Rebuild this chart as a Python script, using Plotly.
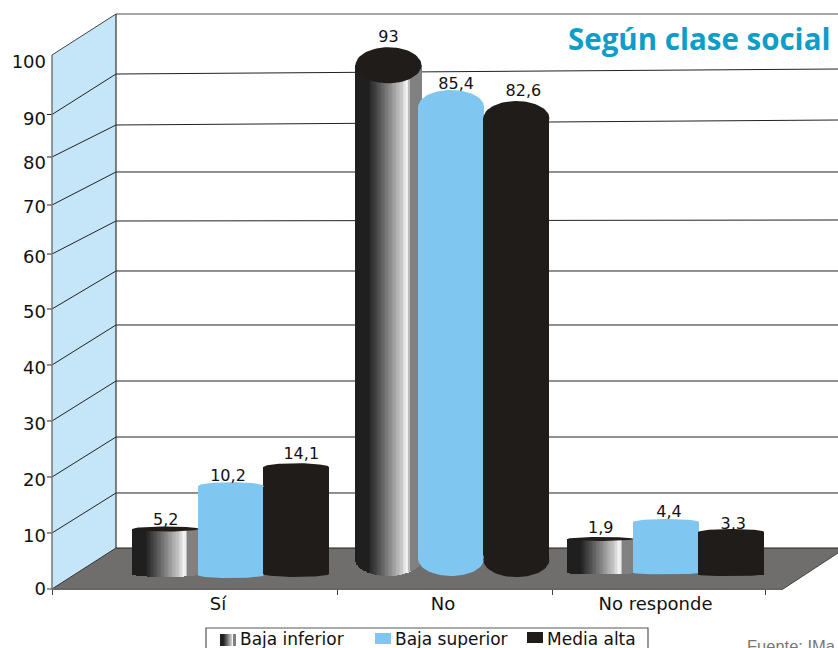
import numpy as np
import plotly.graph_objects as go

# ---- data ----
categories = ["Sí", "No", "No responde"]
series_names = ["Baja inferior", "Baja superior", "Media alta"]
baja_inferior = [5.2, 93, 1.9]
baja_superior = [10.2, 85.4, 4.4]
media_alta = [14.1, 82.6, 3.3]
# The printed cylinders are not to scale with their printed labels:
# heights of the drawn tops and feet, read against the axis below.
top_inferior = [10.8, 94.2, 9.0]
top_superior = [18.5, 86.7, 12.05]
top_media = [21.9, 84.7, 10.25]
foot_inferior = [2.7, 5.4, 2.9]
foot_superior = [2.5, 5.4, 2.9]
foot_media = [2.7, 5.2, 2.6]
y_tick_labels = ["0", "10", "20", "30", "40", "50", "60", "70", "80", "90", "100"]
y_label_positions = [0, 9.6, 19.6, 29.7, 39.8, 49.9, 59.8, 68.7, 76.6, 84.5, 94.8]

# ---- layout constants ----
W, H = 838, 648
L, B = 52, 589
UNIT_X, X0 = 217.5, 231
UNIT_Y = 5.56
px = lambda x: (x - L) / (W - L)
py = lambda y: (B - y) / B
ux = lambda x: (x - X0) / UNIT_X

DARK, BLUE, WALL, FLOOR = "#201c19", "#7fc6f1", "#c5e5f8", "#6f6e6c"
group_center = [0, 1.012, 2]
offset = [[-0.3, 0, 0.3], [-0.288, 0, 0.3], [-0.3, 0, 0.3]]  # per group, per series
bar_w = 0.303
cap_ry = {0: [2.5, 18, 2], 1: [4, 17, 3], 2: [4, 17, 3]}
foot_ry = {0: [3, 17, 1.5], 1: [3, 17, 1.5], 2: [3, 17, 1.5]}
label_dx = {0: [0, -3, 5], 1: [0, 5, 7], 2: [0, 3, 2]}   # label nudges per group, pixels
label_dy = {0: [4, 4, 1], 1: [0, 4, 0], 2: [1, 3, 5]}


def shade(t):
    stops = [(0, 31), (0.2, 31), (0.45, 110), (0.72, 205), (0.78, 245), (0.81, 235), (0.84, 130), (1, 128)]
    v = int(np.interp(t, [s[0] for s in stops], [s[1] for s in stops]))
    return f"rgb({v},{v},{v})"


def line(p, color="#222", width=1):
    path = "M " + " L ".join(f"{px(a):.5f},{py(b):.5f}" for a, b in p)
    return dict(type="path", path=path, xref="paper", yref="paper",
                line=dict(color=color, width=width), layer="below")


def poly(p, fill):
    path = "M " + " L ".join(f"{px(a):.5f},{py(b):.5f}" for a, b in p) + " Z"
    return dict(type="path", path=path, xref="paper", yref="paper", fillcolor=fill,
                line=dict(width=0), layer="below")


shapes = [
    poly([(52, 55), (116, 14), (116, 548), (52, 589)], WALL),
    poly([(52, 589), (116, 548), (838, 548), (838, 553), (783, 589)], FLOOR),
]
front_y = [533, 477, 421, 365, 309, 254, 205, 157, 114.5]
back_y = [493, 437, 381, 325, 271, 221, 172, 125, 74]
right_y = [493, 437, 381, 325, 271, 220, 172, 120, 69]
for a, b, c in zip(front_y, back_y, right_y):
    shapes.append(line([(47, a), (52, a), (116, b), (838, c)]))
shapes += [
    line([(52, 55), (116, 14)], "#444"),
    line([(116, 14), (838, 14)], "#888", 1.5),
    line([(116, 14), (116, 548)], "#333", 1.2),
    line([(52, 55), (52, 589)], "#777", 1.5),
    line([(47, 589), (52, 589), (116, 548)], "#333"),
    line([(116, 548), (838, 548)], "#222"),
    line([(52, 589), (783, 589)], "#666", 2),
    line([(783, 589), (838, 553)], "#444"),
]

# ---- legend: box, keys and labels ----
shapes.append(dict(type="rect", xref="paper", yref="paper", x0=px(206), x1=px(648),
                   y0=py(660), y1=py(628), fillcolor="white",
                   line=dict(color="#555", width=1.2)))
for i in range(16):
    shapes.append(dict(type="rect", xref="paper", yref="paper", x0=px(220 + i), x1=px(221 + i),
                       y0=py(646), y1=py(634), fillcolor=shade((i + .5) / 16), line=dict(width=0)))
shapes.append(dict(type="rect", xref="paper", yref="paper", x0=px(375), x1=px(391),
                   y0=py(644), y1=py(633), fillcolor=BLUE, line=dict(width=0)))
shapes.append(dict(type="rect", xref="paper", yref="paper", x0=px(527), x1=px(543),
                   y0=py(643), y1=py(632), fillcolor=DARK, line=dict(width=0)))

FONT = "DejaVu Sans"
annotations = [
    dict(text=n, x=px(a), y=py(639), xref="paper", yref="paper", xanchor="left", yanchor="middle",
         showarrow=False, font=dict(family=FONT, size=17, color="#111"))
    for n, a in zip(series_names, [238, 393, 545])
]
annotations.append(dict(text="<b>Según clase social</b>", x=px(832), y=py(39), xref="paper", yref="paper",
                        xanchor="right", yanchor="middle", showarrow=False,
                        font=dict(family="Open Sans", size=29.5, color="#0a9ec8")))
annotations.append(dict(text="Fuente: IMa", x=px(745), y=py(646), xref="paper", yref="paper",
                        xanchor="left", yanchor="middle", showarrow=False,
                        font=dict(family="Liberation Sans", size=16.5, color="#777")))

fig = go.Figure()


def ellipse(cx, cy, ry, color):
    th = np.linspace(0, 2 * np.pi, 72)
    fig.add_trace(go.Scatter(x=cx + bar_w / 2 * np.cos(th), y=cy + ry / UNIT_Y * np.sin(th),
                             mode="lines", fill="toself", fillcolor=color, line=dict(width=0),
                             hoverinfo="skip", showlegend=False))


tops = [top_inferior, top_superior, top_media]
feet = [foot_inferior, foot_superior, foot_media]
values = [baja_inferior, baja_superior, media_alta]
colors = [None, BLUE, DARK]

# gradient cylinders, one thin strip per shade
n = 48
sx, sb, sy, sc = [], [], [], []
for g in range(3):
    left = group_center[g] + offset[g][0] - bar_w / 2
    for k in range(n):
        t = (k + .5) / n
        sx.append(left + t * bar_w)
        b = foot_inferior[g] - foot_ry[0][g] / UNIT_Y * np.sqrt(1 - (2 * t - 1) ** 2)
        sb.append(b)
        sy.append(top_inferior[g] - b)
        sc.append(shade(t))
fig.add_trace(go.Bar(x=sx, y=sy, base=sb, width=bar_w / n * 1.15, marker=dict(color=sc, line=dict(width=0)),
                     name=series_names[0], showlegend=False, hoverinfo="skip"))

for s in (1, 2):
    xs = [group_center[g] + offset[g][s] for g in range(3)]
    fig.add_trace(go.Bar(x=xs, y=[tops[s][g] - feet[s][g] for g in range(3)], base=feet[s], width=bar_w,
                         marker=dict(color=colors[s], line=dict(width=0)),
                         name=series_names[s], showlegend=False, hoverinfo="skip"))

for s in range(3):
    for g in range(3):
        cx = group_center[g] + offset[g][s]
        if s > 0:
            ellipse(cx, feet[s][g], foot_ry[s][g], colors[s])
        ellipse(cx, tops[s][g], cap_ry[s][g], colors[s] or DARK)

# value labels, printed just above each cap
lab_x, lab_y, lab_t = [], [], []
for s in range(3):
    for g in range(3):
        lab_x.append(group_center[g] + offset[g][s] + label_dx[g][s] / UNIT_X)
        lab_y.append(tops[s][g] + (cap_ry[s][g] - label_dy[g][s]) / UNIT_Y + 0.2)
        lab_t.append(f"{values[s][g]:g}".replace(".", ","))
fig.add_trace(go.Scatter(x=lab_x, y=lab_y, text=lab_t, mode="text", textposition="top center",
                         textfont=dict(family=FONT, size=16, color="#111"),
                         showlegend=False, hoverinfo="skip"))

fig.update_layout(
    width=W, height=H, margin=dict(l=L, r=0, t=0, b=H - B, autoexpand=False),
    paper_bgcolor="white", plot_bgcolor="rgba(0,0,0,0)", barmode="overlay", bargap=0,
    showlegend=False, shapes=shapes, annotations=annotations,
    xaxis=dict(range=[ux(L), ux(W)], tickmode="array",
               tickvals=[ux(218), ux(443), ux(655.5)], ticktext=categories,
               ticks="", showgrid=False, zeroline=False, showline=False, ticklabelstandoff=2,
               tickfont=dict(family=FONT, size=18, color="#111"),
               minor=dict(tickmode="array", tickvals=[ux(52), ux(337), ux(552), ux(765)],
                          ticks="outside", ticklen=5, tickcolor="#444", tickwidth=1, showgrid=False)),
    yaxis=dict(range=[0, B / UNIT_Y], tickmode="array", tickvals=y_label_positions, ticktext=y_tick_labels,
               ticks="", ticklabelstandoff=5, showgrid=False, zeroline=False, showline=False,
               tickfont=dict(family=FONT, size=18, color="#111")),
)
fig.write_html("out.html", config=dict(displayModeBar=False),
               post_script="document.body.style.margin='0';document.body.style.overflow='hidden';")
